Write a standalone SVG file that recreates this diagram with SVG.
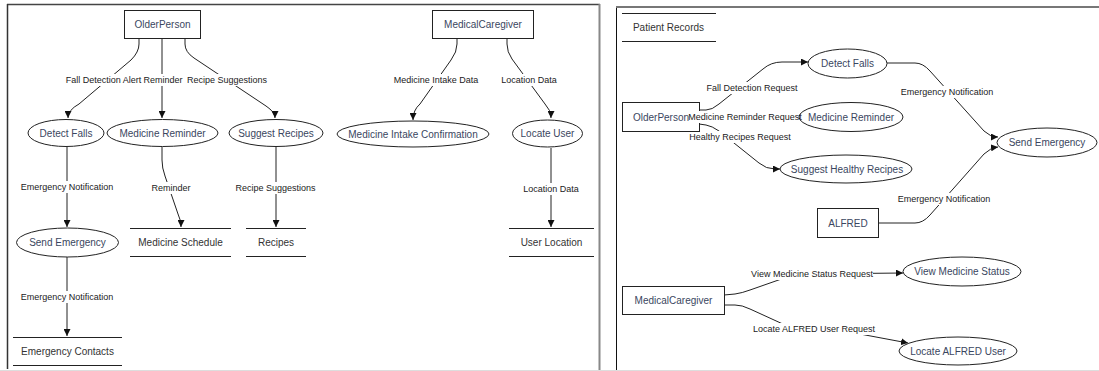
<svg xmlns="http://www.w3.org/2000/svg" width="1099" height="371" viewBox="0 0 1099 371">
  <defs>
    <marker id="arrow" viewBox="0 0 8 8" refX="8" refY="4" markerWidth="7" markerHeight="7" markerUnits="userSpaceOnUse" orient="auto">
      <path d="M0,0 L8,4 L0,8 z" fill="#111"/>
    </marker>
    <style>
      .proc { fill: #fff; stroke: #222; stroke-width: 1; }
      .ent { fill: #fff; stroke: #222; stroke-width: 1; }
      .store { stroke: #222; stroke-width: 1; fill: none; }
      .edge { fill: none; stroke: #222; stroke-width: 1; marker-end: url(#arrow); }
      .nt { font-family: "Liberation Sans", Arial, sans-serif; font-size: 10px; fill: #3a4660; text-anchor: middle; dominant-baseline: central; }
      .st { font-family: "Liberation Sans", Arial, sans-serif; font-size: 10px; fill: #333; text-anchor: middle; dominant-baseline: central; }
      .lt { font-family: "Liberation Sans", Arial, sans-serif; font-size: 9px; fill: #222; text-anchor: middle; dominant-baseline: central; }
      .lbg { fill: #fff; }
    </style>
  </defs>

  <rect width="1099" height="371" fill="#fff"/>

  <!-- panel frames -->
  <g id="frames" fill="none">
    <line x1="7" y1="4.5" x2="600" y2="4.5" stroke="#444" stroke-width="1.5"/>
    <line x1="7.5" y1="4" x2="7.5" y2="369" stroke="#333" stroke-width="1.5"/>
    <line x1="599.5" y1="4" x2="599.5" y2="371" stroke="#888" stroke-width="2"/>
    <line x1="616.5" y1="7" x2="616.5" y2="371" stroke="#111" stroke-width="1"/>
    <line x1="616" y1="7" x2="1099" y2="7" stroke="#777" stroke-width="2"/>
    <line x1="0" y1="370.5" x2="1099" y2="370.5" stroke="#ddd" stroke-width="1"/>
  </g>

  <!-- connectors -->
  <g id="connectors">
    <!-- left panel -->
    <path class="edge" d="M139,38 V44 Q139,52 131,60 L79,104 Q68,110 68,118"/>
    <path class="edge" d="M162,38 V118"/>
    <path class="edge" d="M185,38 V44 Q185,52 194,58 L266,106 Q275,112 275,118"/>
    <path class="edge" d="M457,39 V44 Q457,52 451,60 L420,104 Q413,110 413,120"/>
    <path class="edge" d="M507,39 V44 Q507,52 512,59 L545,104 Q551,110 551,118"/>
    <path class="edge" d="M67,147 V227"/>
    <path class="edge" d="M162,147 V160 Q162,168 165,176 L178,214 Q181,220 181,227"/>
    <path class="edge" d="M276,147 V227"/>
    <path class="edge" d="M551,148 V227"/>
    <path class="edge" d="M67,257 V336"/>

    <!-- right panel -->
    <path class="edge" d="M699,110 L706,110 Q712,110 719,104 L763,69 Q771,62 782,62 L808,62"/>
    <path class="edge" d="M699,117 L799,117"/>
    <path class="edge" d="M699,124 L706,125 Q712,126 719,131 L759,163 Q766,169 775,169 L780,169"/>
    <path class="edge" d="M887,63 L915,63 Q923,63 930,71 L984,131 Q990,137 998,137"/>
    <path class="edge" d="M878,223 L915,223 Q923,223 930,215 L984,154 Q990,148 998,147"/>
    <path class="edge" d="M724,295 L735,294 Q742,293 750,290 L790,276 Q795,274 805,274 L903,273"/>
    <path class="edge" d="M724,305 L735,305 Q742,305 750,309 L785,325 Q792,329 800,330 L860,334 L908,343"/>

    <!-- label backgrounds -->
    <rect class="lbg" x="64" y="74" width="79" height="12"/>
    <rect class="lbg" x="144" y="74" width="38" height="12"/>
    <rect class="lbg" x="187" y="74" width="80" height="12"/>
    <rect class="lbg" x="393" y="74" width="86" height="12"/>
    <rect class="lbg" x="500" y="74" width="58" height="12"/>
    <rect class="lbg" x="21" y="181" width="92" height="12"/>
    <rect class="lbg" x="152" y="182" width="38" height="12"/>
    <rect class="lbg" x="235" y="182" width="81" height="12"/>
    <rect class="lbg" x="523" y="183" width="57" height="12"/>
    <rect class="lbg" x="21" y="291" width="92" height="12"/>
    <rect class="lbg" x="706" y="82" width="93" height="12"/>
    <rect class="lbg" x="690" y="111" width="110" height="12"/>
    <rect class="lbg" x="689" y="131" width="103" height="12"/>
    <rect class="lbg" x="901" y="86" width="93" height="12"/>
    <rect class="lbg" x="898" y="193" width="93" height="12"/>
    <rect class="lbg" x="751" y="268" width="122" height="12"/>
    <rect class="lbg" x="753" y="323" width="122" height="12"/>

    <!-- labels -->
    <text class="lt" x="103.5" y="80">Fall Detection Alert</text>
    <text class="lt" x="163" y="80">Reminder</text>
    <text class="lt" x="227" y="80">Recipe Suggestions</text>
    <text class="lt" x="436" y="80">Medicine Intake Data</text>
    <text class="lt" x="529" y="80">Location Data</text>
    <text class="lt" x="67" y="187">Emergency Notification</text>
    <text class="lt" x="171" y="188">Reminder</text>
    <text class="lt" x="275.5" y="188">Recipe Suggestions</text>
    <text class="lt" x="551" y="189">Location Data</text>
    <text class="lt" x="67" y="297">Emergency Notification</text>
    <text class="lt" x="752" y="88">Fall Detection Request</text>
    <text class="lt" x="740" y="137">Healthy Recipes Request</text>
    <text class="lt" x="947" y="92">Emergency Notification</text>
    <text class="lt" x="944" y="199">Emergency Notification</text>
    <text class="lt" x="812" y="274">View Medicine Status Request</text>
    <text class="lt" x="814" y="329">Locate ALFRED User Request</text>
  </g>

  <!-- left panel nodes -->
  <g id="older-person-l">
    <rect class="ent" x="124.5" y="10.5" width="76" height="28"/>
    <text class="nt" x="162.5" y="24.5">OlderPerson</text>
  </g>
  <g id="medical-caregiver-l">
    <rect class="ent" x="432.5" y="10.5" width="101" height="28"/>
    <text class="nt" x="483" y="24.5">MedicalCaregiver</text>
  </g>
  <g id="detect-falls-l">
    <ellipse class="proc" cx="66" cy="133" rx="38" ry="13.5"/>
    <text class="nt" x="66" y="133">Detect Falls</text>
  </g>
  <g id="medicine-reminder-l">
    <ellipse class="proc" cx="162.5" cy="133" rx="55.5" ry="13.5"/>
    <text class="nt" x="162.5" y="133">Medicine Reminder</text>
  </g>
  <g id="suggest-recipes-l">
    <ellipse class="proc" cx="276" cy="133" rx="47" ry="13.5"/>
    <text class="nt" x="276" y="133">Suggest Recipes</text>
  </g>
  <g id="medicine-intake-l">
    <ellipse class="proc" cx="413" cy="134" rx="76" ry="13"/>
    <text class="nt" x="413" y="134">Medicine Intake Confirmation</text>
  </g>
  <g id="locate-user-l">
    <ellipse class="proc" cx="547.5" cy="133.5" rx="35" ry="13.5"/>
    <text class="nt" x="547.5" y="133.5">Locate User</text>
  </g>
  <g id="send-emergency-l">
    <ellipse class="proc" cx="67.5" cy="242.5" rx="51" ry="14.5"/>
    <text class="nt" x="67.5" y="242.5">Send Emergency</text>
  </g>
  <g id="medicine-schedule-l">
    <line class="store" x1="130" y1="228.5" x2="231" y2="228.5"/>
    <line class="store" x1="130" y1="256.5" x2="231" y2="256.5"/>
    <text class="st" x="180.5" y="242.5">Medicine Schedule</text>
  </g>
  <g id="recipes-l">
    <line class="store" x1="246" y1="228.5" x2="306" y2="228.5"/>
    <line class="store" x1="246" y1="256.5" x2="306" y2="256.5"/>
    <text class="st" x="276" y="242.5">Recipes</text>
  </g>
  <g id="user-location-l">
    <line class="store" x1="509" y1="228.5" x2="594" y2="228.5"/>
    <line class="store" x1="509" y1="256.5" x2="594" y2="256.5"/>
    <text class="st" x="551.5" y="242.5">User Location</text>
  </g>
  <g id="emergency-contacts-l">
    <line class="store" x1="13" y1="337.5" x2="122" y2="337.5"/>
    <line class="store" x1="13" y1="365.5" x2="122" y2="365.5"/>
    <text class="st" x="67.5" y="351.5">Emergency Contacts</text>
  </g>

  <!-- right panel nodes -->
  <g id="patient-records-r">
    <line class="store" x1="622" y1="13.5" x2="716" y2="13.5"/>
    <line class="store" x1="622" y1="41.5" x2="716" y2="41.5"/>
    <text class="st" x="668.5" y="27.5">Patient Records</text>
  </g>
  <g id="older-person-r">
    <rect class="ent" x="622.5" y="102.5" width="77" height="29" style="fill:none"/>
    <rect class="lbg" x="690" y="111" width="10" height="12"/>
    <text class="nt" x="661" y="117">OlderPerson</text>
  </g>
  <g id="detect-falls-r">
    <ellipse class="proc" cx="847.5" cy="63.5" rx="39.5" ry="14.5"/>
    <text class="nt" x="847.5" y="63.5">Detect Falls</text>
  </g>
  <g id="medicine-reminder-r">
    <ellipse class="proc" cx="851" cy="117" rx="52" ry="14.5"/>
    <text class="nt" x="851" y="117">Medicine Reminder</text>
  </g>
  <g id="suggest-healthy-r">
    <ellipse class="proc" cx="846" cy="169" rx="66" ry="14"/>
    <text class="nt" x="847" y="169">Suggest Healthy Recipes</text>
  </g>
  <g id="send-emergency-r">
    <ellipse class="proc" cx="1047" cy="142.5" rx="50" ry="14.5"/>
    <text class="nt" x="1047" y="142.5">Send Emergency</text>
  </g>
  <g id="alfred-r">
    <rect class="ent" x="817.5" y="208.5" width="61" height="29"/>
    <text class="nt" x="848" y="223">ALFRED</text>
  </g>
  <g id="view-medicine-status-r">
    <ellipse class="proc" cx="962" cy="271.5" rx="59" ry="14.5"/>
    <text class="nt" x="962" y="271.5">View Medicine Status</text>
  </g>
  <g id="medical-caregiver-r">
    <rect class="ent" x="622.5" y="286.5" width="102" height="28"/>
    <text class="nt" x="673.5" y="300.5">MedicalCaregiver</text>
  </g>
  <g id="locate-alfred-user-r">
    <ellipse class="proc" cx="958" cy="351" rx="59" ry="14"/>
    <text class="nt" x="958" y="351">Locate ALFRED User</text>
  </g>

  <!-- label drawn over the process border it overlaps -->
  <text class="lt" x="745" y="117">Medicine Reminder Request</text>
</svg>
